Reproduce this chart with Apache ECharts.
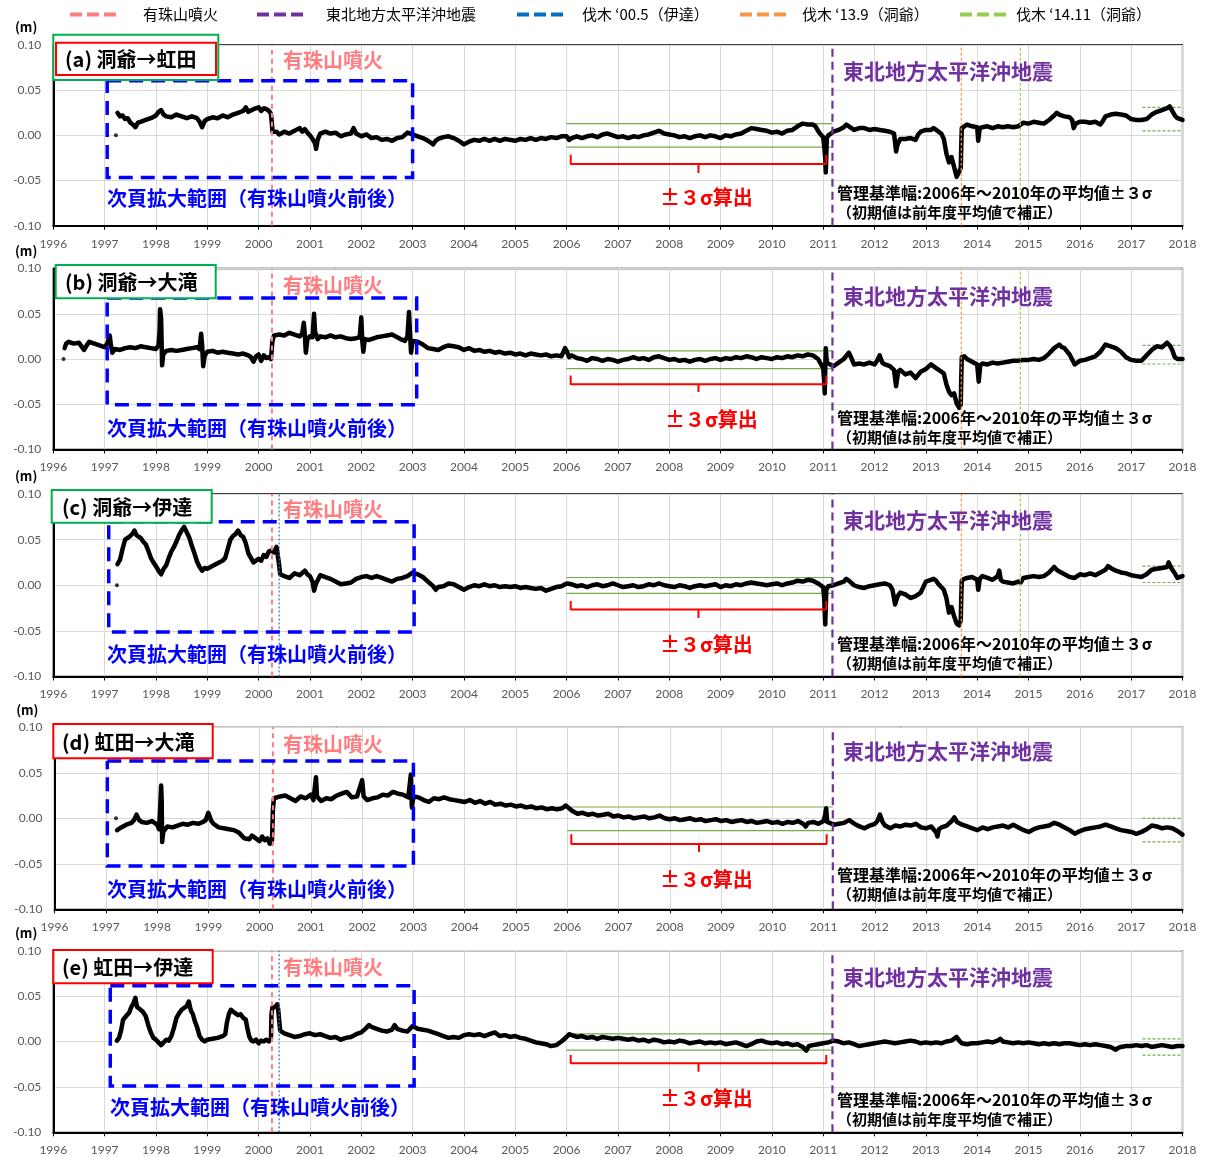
<!DOCTYPE html>
<html><head><meta charset="utf-8">
<script src="https://cdn.jsdelivr.net/npm/echarts@6/dist/echarts.min.js"></script>
<style>html,body{margin:0;padding:0;background:#fff}#c{width:1209px;height:1157px}</style>
</head><body><div id="c"></div>
<script>
// ---------- axes / ticks ----------
const xTickMin = 1996, xTickMax = 2018, xTickStep = 1;
const yTickMin = -0.10, yTickMax = 0.10, yTickStep = 0.05;

// ---------- categories ----------
const panelTitles = ['(a) 洞爺→虹田', '(b) 洞爺→大滝', '(c) 洞爺→伊達', '(d) 虹田→大滝', '(e) 虹田→伊達'];
const eventNames = ['有珠山噴火', '東北地方太平洋沖地震', '伐木 ‘00.5（伊達）', '伐木 ‘13.9（洞爺）', '伐木 ‘14.11（洞爺）'];
const eventYears = [2000.26, 2011.18, 2000.40, 2013.69, 2014.84];
const eventPanels = [[0,1,2,3,4], [0,1,2,3,4], [2,4], [0,1,2], [0,1,2]];

// ---------- ±3σ bands (m) ----------
const refPeriod = [2006.0, 2011.18];
const refUpper = [0.013, 0.009, 0.0085, 0.0124, 0.0083];
const refLower = [-0.013, -0.0107, -0.009, -0.0135, -0.0094];
const curPeriod = [2017.22, 2018.0];
const curUpper = [0.031, 0.015, 0.021, 0.000, 0.003];
const curLower = [0.005, -0.0055, 0.003, -0.026, -0.015];

// ---------- isolated first points ----------
const isoA = [[1997.22, 0.000]];
const isoB = [[1996.20, 0.000]];
const isoC = [[1997.24, 0.000]];
const isoD = [[1997.20, 0.000]];
const isoE = [];

// ---------- series values [year, m] ----------
const seriesA = [
[1997.25,0.025],[1997.3,0.021],[1997.35,0.022],[1997.4,0.018],[1997.45,0.019],[1997.5,0.014],[1997.55,0.012],[1997.6,0.009],[1997.65,0.014],[1997.7,0.015],[1997.8,0.017],[1997.9,0.019],
[1998.0,0.022],[1998.05,0.026],[1998.1,0.028],[1998.15,0.023],[1998.2,0.021],[1998.3,0.020],[1998.4,0.023],[1998.5,0.021],[1998.6,0.019],[1998.7,0.021],[1998.8,0.019],[1998.85,0.015],[1998.9,0.009],[1998.95,0.016],
[1999.0,0.018],[1999.1,0.020],[1999.2,0.019],[1999.3,0.022],[1999.4,0.020],[1999.5,0.023],[1999.6,0.025],[1999.7,0.027],[1999.75,0.031],[1999.8,0.026],[1999.9,0.029],
[2000.0,0.031],[2000.05,0.027],[2000.1,0.030],[2000.15,0.029],[2000.2,0.027],[2000.24,0.024],[2000.26,0.012],[2000.27,0.004],[2000.3,0.002],[2000.35,0.004],[2000.4,0.001],[2000.5,0.004],[2000.6,0.002],[2000.7,0.005],[2000.8,0.008],[2000.85,0.004],[2000.9,0.007],[2000.95,0.003],
[2001.0,0.000],[2001.05,-0.004],[2001.1,-0.009],[2001.12,-0.015],[2001.15,-0.005],[2001.2,0.002],[2001.3,0.004],[2001.4,0.002],[2001.5,0.003],[2001.6,-0.001],[2001.7,0.001],[2001.8,0.002],[2001.85,0.008],[2001.9,0.002],
[2002.0,-0.001],[2002.1,0.001],[2002.2,-0.003],[2002.3,-0.002],[2002.4,-0.005],[2002.5,-0.004],[2002.6,-0.006],[2002.7,-0.003],[2002.8,-0.002],[2002.9,0.003],
[2003.0,0.001],[2003.1,-0.001],[2003.2,-0.003],[2003.3,-0.006],[2003.4,-0.010],[2003.45,-0.006],[2003.5,-0.004],[2003.6,-0.002],[2003.7,-0.001],[2003.8,-0.003],[2003.9,-0.006],
[2004.0,-0.010],[2004.1,-0.007],[2004.2,-0.005],[2004.3,-0.006],[2004.4,-0.004],[2004.5,-0.006],[2004.6,-0.004],[2004.7,-0.006],[2004.8,-0.004],[2004.9,-0.005],
[2005.0,-0.006],[2005.1,-0.004],[2005.2,-0.005],[2005.3,-0.003],[2005.4,-0.005],[2005.5,-0.003],[2005.6,-0.004],[2005.7,-0.002],[2005.8,-0.003],[2005.9,-0.001],
[2006.0,-0.001],[2006.05,-0.005],[2006.1,-0.003],[2006.2,-0.001],[2006.3,-0.003],[2006.4,-0.001],[2006.5,0.000],[2006.6,-0.002],[2006.7,0.001],[2006.8,0.002],[2006.9,0.000],
[2007.0,-0.002],[2007.1,-0.001],[2007.2,-0.003],[2007.3,-0.001],[2007.4,-0.002],[2007.5,0.000],[2007.6,0.001],[2007.7,0.003],[2007.8,0.005],[2007.9,0.002],
[2008.0,0.001],[2008.1,0.000],[2008.2,-0.002],[2008.3,-0.001],[2008.4,-0.003],[2008.5,-0.001],[2008.6,0.000],[2008.7,-0.002],[2008.8,0.000],[2008.9,-0.001],
[2009.0,-0.003],[2009.1,0.000],[2009.2,-0.001],[2009.3,0.001],[2009.4,0.002],[2009.5,0.005],[2009.6,0.008],[2009.7,0.007],[2009.8,0.006],[2009.9,0.005],
[2010.0,0.003],[2010.1,0.004],[2010.2,0.002],[2010.3,0.005],[2010.4,0.006],[2010.5,0.010],[2010.6,0.013],[2010.7,0.012],[2010.8,0.012],[2010.85,0.010],[2010.9,0.005],[2010.95,0.001],
[2011.0,-0.002],[2011.02,-0.012],[2011.04,-0.025],[2011.05,-0.041],[2011.07,-0.003],[2011.1,0.000],[2011.15,0.002],[2011.2,0.004],[2011.3,0.006],[2011.4,0.009],[2011.45,0.012],[2011.5,0.010],[2011.6,0.006],[2011.7,0.008],[2011.8,0.008],[2011.9,0.006],
[2012.0,0.007],[2012.1,0.006],[2012.2,0.005],[2012.3,0.004],[2012.38,0.002],[2012.42,-0.018],[2012.45,-0.010],[2012.5,-0.004],[2012.6,-0.004],[2012.7,-0.003],[2012.8,-0.005],[2012.85,0.001],[2012.9,0.004],
[2013.0,0.006],[2013.1,0.006],[2013.15,0.008],[2013.2,0.006],[2013.3,0.002],[2013.35,-0.004],[2013.4,-0.020],[2013.45,-0.030],[2013.5,-0.024],[2013.55,-0.035],[2013.6,-0.046],[2013.65,-0.040],[2013.68,-0.036],[2013.69,-0.010],[2013.7,0.008],[2013.75,0.010],[2013.8,0.012],[2013.9,0.010],
[2014.0,0.009],[2014.02,-0.006],[2014.05,0.008],[2014.1,0.009],[2014.2,0.010],[2014.3,0.008],[2014.4,0.010],[2014.5,0.009],[2014.6,0.010],[2014.7,0.009],[2014.8,0.010],[2014.9,0.014],
[2015.0,0.013],[2015.1,0.015],[2015.2,0.014],[2015.3,0.013],[2015.4,0.017],[2015.5,0.022],[2015.55,0.025],[2015.6,0.023],[2015.7,0.021],[2015.8,0.020],[2015.85,0.017],[2015.88,0.008],[2015.92,0.013],
[2016.0,0.015],[2016.1,0.015],[2016.2,0.014],[2016.3,0.015],[2016.4,0.012],[2016.45,0.016],[2016.5,0.021],[2016.6,0.023],[2016.7,0.024],[2016.8,0.023],[2016.9,0.022],
[2017.0,0.018],[2017.1,0.017],[2017.2,0.017],[2017.3,0.018],[2017.4,0.023],[2017.5,0.026],[2017.6,0.028],[2017.7,0.030],[2017.75,0.032],[2017.8,0.027],[2017.85,0.022],[2017.9,0.019],[2018.0,0.017]
];

const seriesB = [
[1996.22,0.012],[1996.25,0.017],[1996.3,0.019],[1996.4,0.017],[1996.5,0.018],[1996.55,0.014],[1996.6,0.010],[1996.65,0.015],[1996.7,0.019],[1996.8,0.017],[1996.9,0.015],
[1997.0,0.013],[1997.05,0.017],[1997.1,0.026],[1997.12,0.016],[1997.15,0.007],[1997.2,0.011],[1997.3,0.010],[1997.4,0.012],[1997.5,0.013],[1997.6,0.012],[1997.7,0.014],[1997.8,0.013],[1997.9,0.012],
[1998.0,0.011],[1998.05,0.015],[1998.07,0.030],[1998.08,0.055],[1998.1,0.045],[1998.11,0.020],[1998.12,-0.007],[1998.14,0.005],[1998.2,0.009],[1998.3,0.010],[1998.4,0.009],[1998.5,0.010],[1998.6,0.011],[1998.7,0.012],[1998.8,0.013],[1998.85,0.011],[1998.88,0.028],[1998.9,0.015],[1998.92,-0.008],[1998.95,0.004],
[1999.0,0.008],[1999.1,0.009],[1999.2,0.007],[1999.3,0.008],[1999.4,0.007],[1999.5,0.006],[1999.6,0.005],[1999.7,0.006],[1999.8,0.004],[1999.85,0.002],[1999.9,-0.003],[1999.95,0.003],
[2000.0,0.005],[2000.05,-0.002],[2000.1,0.004],[2000.15,0.001],[2000.2,0.002],[2000.24,0.000],[2000.27,0.020],[2000.3,0.026],[2000.4,0.027],[2000.5,0.026],[2000.6,0.029],[2000.7,0.027],[2000.8,0.025],[2000.85,0.028],[2000.88,0.040],[2000.9,0.027],[2000.92,0.007],[2000.95,0.022],
[2001.0,0.025],[2001.05,0.024],[2001.08,0.050],[2001.1,0.030],[2001.15,0.022],[2001.2,0.025],[2001.3,0.024],[2001.4,0.026],[2001.5,0.024],[2001.6,0.025],[2001.7,0.023],[2001.8,0.022],[2001.9,0.023],[2001.97,0.024],
[2002.0,0.046],[2002.02,0.020],[2002.04,0.008],[2002.07,0.022],[2002.15,0.021],[2002.3,0.024],[2002.4,0.025],[2002.5,0.026],[2002.6,0.027],[2002.7,0.024],[2002.8,0.021],[2002.85,0.020],[2002.9,0.025],[2002.93,0.052],[2002.95,0.028],[2002.97,0.007],
[2003.0,0.020],[2003.1,0.019],[2003.2,0.016],[2003.3,0.012],[2003.4,0.011],[2003.5,0.010],[2003.6,0.013],[2003.7,0.015],[2003.8,0.014],[2003.9,0.013],
[2004.0,0.010],[2004.1,0.012],[2004.2,0.009],[2004.3,0.010],[2004.4,0.008],[2004.5,0.009],[2004.6,0.007],[2004.7,0.008],[2004.8,0.006],[2004.9,0.007],
[2005.0,0.005],[2005.1,0.006],[2005.2,0.004],[2005.3,0.006],[2005.4,0.005],[2005.5,0.004],[2005.6,0.005],[2005.7,0.003],[2005.8,0.004],[2005.9,0.003],[2005.97,0.012],
[2006.0,0.009],[2006.05,0.002],[2006.1,0.004],[2006.2,0.001],[2006.3,0.000],[2006.4,-0.002],[2006.5,0.001],[2006.6,0.000],[2006.7,-0.002],[2006.8,0.000],[2006.9,-0.001],
[2007.0,-0.003],[2007.1,-0.001],[2007.2,0.000],[2007.3,0.002],[2007.4,0.000],[2007.5,0.001],[2007.6,-0.001],[2007.7,0.002],[2007.8,0.003],[2007.9,0.001],
[2008.0,-0.001],[2008.1,0.000],[2008.2,-0.002],[2008.3,-0.001],[2008.4,-0.003],[2008.5,-0.001],[2008.6,0.000],[2008.7,-0.002],[2008.8,0.000],[2008.9,0.001],
[2009.0,-0.001],[2009.1,0.001],[2009.2,0.000],[2009.3,0.002],[2009.4,0.001],[2009.5,0.003],[2009.6,0.002],[2009.7,0.000],[2009.8,0.002],[2009.9,0.001],
[2010.0,0.000],[2010.1,0.002],[2010.2,0.001],[2010.3,0.003],[2010.4,0.002],[2010.5,0.004],[2010.6,0.003],[2010.7,0.005],[2010.8,0.004],[2010.9,0.000],[2010.95,-0.005],
[2011.0,-0.010],[2011.02,-0.025],[2011.03,-0.038],[2011.04,-0.010],[2011.05,0.012],[2011.07,-0.004],[2011.1,-0.006],[2011.2,-0.008],[2011.3,-0.004],[2011.4,0.000],[2011.5,0.007],[2011.55,0.001],[2011.6,-0.006],[2011.7,-0.005],[2011.8,-0.006],[2011.9,-0.004],
[2012.0,-0.006],[2012.05,-0.002],[2012.1,0.004],[2012.15,-0.004],[2012.2,-0.006],[2012.3,-0.008],[2012.38,-0.012],[2012.42,-0.030],[2012.46,-0.014],[2012.5,-0.012],[2012.6,-0.017],[2012.7,-0.015],[2012.8,-0.021],[2012.9,-0.014],
[2013.0,-0.011],[2013.1,-0.006],[2013.2,-0.010],[2013.3,-0.014],[2013.35,-0.016],[2013.4,-0.028],[2013.45,-0.036],[2013.5,-0.040],[2013.55,-0.038],[2013.6,-0.049],[2013.65,-0.054],[2013.68,-0.050],[2013.69,-0.020],[2013.7,0.002],[2013.75,0.003],[2013.8,0.000],[2013.9,-0.003],
[2014.0,-0.006],[2014.03,-0.025],[2014.06,-0.007],[2014.1,-0.005],[2014.2,-0.006],[2014.3,-0.004],[2014.4,-0.005],[2014.5,-0.004],[2014.6,-0.003],[2014.7,-0.002],[2014.8,-0.002],[2014.9,-0.001],
[2015.0,-0.001],[2015.1,0.000],[2015.2,-0.001],[2015.3,0.001],[2015.4,0.006],[2015.5,0.012],[2015.6,0.016],[2015.65,0.013],[2015.7,0.012],[2015.8,0.005],[2015.9,-0.006],
[2016.0,-0.002],[2016.1,-0.001],[2016.2,0.001],[2016.3,0.003],[2016.4,0.008],[2016.5,0.016],[2016.6,0.014],[2016.7,0.012],[2016.8,0.008],[2016.9,0.002],
[2017.0,-0.001],[2017.1,-0.002],[2017.2,-0.002],[2017.3,0.004],[2017.4,0.010],[2017.5,0.014],[2017.6,0.013],[2017.7,0.018],[2017.75,0.015],[2017.8,0.010],[2017.85,0.002],[2017.9,0.000],[2018.0,0.000]
];

const seriesC = [
[1997.25,0.023],[1997.3,0.028],[1997.35,0.040],[1997.4,0.050],[1997.45,0.052],[1997.5,0.054],[1997.55,0.057],[1997.58,0.060],[1997.62,0.055],[1997.7,0.052],[1997.75,0.048],[1997.8,0.045],[1997.85,0.038],[1997.9,0.030],[1997.95,0.025],
[1998.0,0.021],[1998.05,0.016],[1998.1,0.012],[1998.15,0.018],[1998.2,0.022],[1998.25,0.030],[1998.3,0.037],[1998.35,0.042],[1998.4,0.048],[1998.45,0.055],[1998.5,0.060],[1998.55,0.064],[1998.6,0.058],[1998.65,0.052],[1998.7,0.043],[1998.75,0.035],[1998.8,0.026],[1998.85,0.020],[1998.9,0.016],[1998.95,0.019],
[1999.0,0.018],[1999.1,0.021],[1999.2,0.024],[1999.3,0.027],[1999.35,0.030],[1999.4,0.040],[1999.45,0.050],[1999.5,0.054],[1999.55,0.056],[1999.6,0.060],[1999.65,0.055],[1999.7,0.053],[1999.75,0.046],[1999.8,0.035],[1999.85,0.030],[1999.9,0.025],[1999.95,0.027],
[2000.0,0.029],[2000.05,0.027],[2000.1,0.033],[2000.15,0.031],[2000.2,0.037],[2000.25,0.038],[2000.3,0.036],[2000.35,0.042],[2000.38,0.040],[2000.4,0.022],[2000.42,0.012],[2000.5,0.010],[2000.6,0.008],[2000.7,0.013],[2000.8,0.011],[2000.9,0.016],[2000.95,0.012],
[2001.0,0.010],[2001.05,0.004],[2001.08,-0.006],[2001.1,-0.008],[2001.12,0.002],[2001.2,0.011],[2001.3,0.009],[2001.4,0.007],[2001.5,0.004],[2001.6,0.001],[2001.7,0.002],[2001.8,0.003],[2001.9,0.007],
[2002.0,0.009],[2002.1,0.010],[2002.2,0.008],[2002.3,0.010],[2002.4,0.008],[2002.5,0.006],[2002.6,0.004],[2002.7,0.007],[2002.8,0.008],[2002.9,0.010],
[2003.0,0.014],[2003.1,0.012],[2003.2,0.009],[2003.3,0.004],[2003.4,-0.001],[2003.45,-0.005],[2003.5,-0.002],[2003.6,-0.001],[2003.7,0.002],[2003.8,0.001],[2003.9,-0.002],
[2004.0,-0.005],[2004.1,-0.002],[2004.2,0.000],[2004.3,-0.001],[2004.4,0.001],[2004.5,-0.001],[2004.6,0.000],[2004.7,-0.002],[2004.8,-0.001],[2004.9,-0.002],
[2005.0,-0.001],[2005.1,-0.003],[2005.2,-0.002],[2005.3,-0.003],[2005.4,-0.004],[2005.5,-0.003],[2005.6,-0.006],[2005.7,-0.004],[2005.8,-0.002],[2005.9,-0.001],
[2006.0,0.002],[2006.1,0.001],[2006.2,-0.001],[2006.3,0.000],[2006.4,-0.002],[2006.5,0.000],[2006.6,0.001],[2006.7,-0.001],[2006.8,0.000],[2006.9,0.002],
[2007.0,0.000],[2007.1,-0.002],[2007.2,-0.001],[2007.3,0.000],[2007.4,-0.002],[2007.5,-0.001],[2007.6,0.001],[2007.7,0.000],[2007.8,0.002],[2007.9,0.000],
[2008.0,-0.001],[2008.1,-0.002],[2008.2,0.000],[2008.3,-0.001],[2008.4,-0.003],[2008.5,-0.001],[2008.6,0.000],[2008.7,-0.001],[2008.8,0.000],[2008.9,0.001],
[2009.0,-0.002],[2009.1,0.000],[2009.2,-0.001],[2009.3,0.001],[2009.4,0.000],[2009.5,0.002],[2009.6,0.003],[2009.7,0.002],[2009.8,0.001],[2009.9,0.000],
[2010.0,0.001],[2010.1,0.002],[2010.2,0.000],[2010.3,0.002],[2010.4,0.003],[2010.5,0.005],[2010.6,0.004],[2010.7,0.006],[2010.8,0.005],[2010.9,0.002],[2010.95,0.000],
[2011.0,-0.002],[2011.02,-0.015],[2011.03,-0.030],[2011.04,-0.043],[2011.06,-0.005],[2011.1,-0.001],[2011.2,0.000],[2011.3,0.002],[2011.4,0.004],[2011.45,0.007],[2011.5,0.005],[2011.6,0.000],[2011.7,-0.002],[2011.8,-0.003],[2011.9,-0.001],
[2012.0,0.000],[2012.1,0.001],[2012.2,0.002],[2012.3,0.000],[2012.35,-0.005],[2012.4,-0.021],[2012.45,-0.012],[2012.5,-0.008],[2012.6,-0.010],[2012.7,-0.014],[2012.8,-0.012],[2012.9,-0.008],
[2013.0,0.004],[2013.1,0.006],[2013.15,0.007],[2013.2,0.005],[2013.25,0.001],[2013.3,-0.002],[2013.35,-0.005],[2013.4,-0.014],[2013.45,-0.030],[2013.5,-0.024],[2013.55,-0.034],[2013.6,-0.042],[2013.65,-0.044],[2013.68,-0.038],[2013.69,-0.012],[2013.7,0.005],[2013.75,0.007],[2013.8,0.008],[2013.9,0.009],
[2014.0,0.006],[2014.02,-0.005],[2014.05,0.007],[2014.1,0.010],[2014.2,0.008],[2014.3,0.006],[2014.4,0.010],[2014.43,0.016],[2014.46,0.006],[2014.5,0.004],[2014.6,0.003],[2014.7,0.002],[2014.8,0.004],[2014.85,0.003],[2014.9,0.008],
[2015.0,0.009],[2015.1,0.010],[2015.2,0.009],[2015.3,0.010],[2015.4,0.014],[2015.5,0.020],[2015.55,0.017],[2015.6,0.015],[2015.7,0.012],[2015.8,0.009],[2015.9,0.008],
[2016.0,0.012],[2016.1,0.011],[2016.2,0.013],[2016.3,0.011],[2016.4,0.014],[2016.5,0.017],[2016.55,0.021],[2016.6,0.019],[2016.7,0.016],[2016.8,0.014],[2016.9,0.013],
[2017.0,0.011],[2017.1,0.010],[2017.2,0.009],[2017.3,0.012],[2017.4,0.017],[2017.5,0.018],[2017.6,0.019],[2017.7,0.020],[2017.73,0.025],[2017.78,0.019],[2017.85,0.013],[2017.9,0.008],[2018.0,0.010]
];

const seriesD = [
[1997.22,-0.013],[1997.3,-0.010],[1997.4,-0.007],[1997.5,-0.005],[1997.55,-0.002],[1997.6,0.004],[1997.65,-0.002],[1997.7,-0.004],[1997.8,-0.005],[1997.9,-0.003],
[1998.0,-0.007],[1998.04,-0.012],[1998.06,0.010],[1998.08,0.036],[1998.09,0.020],[1998.1,-0.026],[1998.12,-0.015],[1998.2,-0.009],[1998.3,-0.010],[1998.4,-0.008],[1998.5,-0.006],[1998.6,-0.007],[1998.7,-0.005],[1998.8,-0.006],[1998.9,-0.004],[1998.95,-0.002],
[1999.0,0.006],[1999.05,-0.002],[1999.1,-0.006],[1999.2,-0.010],[1999.3,-0.011],[1999.4,-0.012],[1999.5,-0.013],[1999.6,-0.016],[1999.7,-0.022],[1999.8,-0.023],[1999.85,-0.019],[1999.9,-0.021],
[2000.0,-0.025],[2000.05,-0.020],[2000.1,-0.024],[2000.15,-0.022],[2000.2,-0.028],[2000.24,-0.026],[2000.25,-0.010],[2000.26,0.010],[2000.28,0.022],[2000.3,0.021],[2000.4,0.024],[2000.5,0.025],[2000.6,0.022],[2000.7,0.019],[2000.8,0.024],[2000.9,0.022],
[2001.0,0.026],[2001.05,0.020],[2001.1,0.045],[2001.12,0.024],[2001.2,0.019],[2001.3,0.022],[2001.4,0.021],[2001.5,0.025],[2001.6,0.027],[2001.7,0.029],[2001.8,0.023],[2001.9,0.024],
[2002.0,0.042],[2002.03,0.024],[2002.1,0.020],[2002.2,0.022],[2002.3,0.023],[2002.4,0.026],[2002.5,0.025],[2002.6,0.029],[2002.7,0.027],[2002.8,0.026],[2002.9,0.023],[2002.95,0.048],[2002.97,0.012],
[2003.0,0.024],[2003.1,0.023],[2003.2,0.020],[2003.3,0.018],[2003.4,0.022],[2003.5,0.021],[2003.6,0.023],[2003.7,0.021],[2003.8,0.020],[2003.9,0.019],
[2004.0,0.018],[2004.1,0.020],[2004.2,0.017],[2004.3,0.019],[2004.4,0.016],[2004.5,0.018],[2004.6,0.015],[2004.7,0.016],[2004.8,0.014],[2004.9,0.015],
[2005.0,0.013],[2005.1,0.014],[2005.2,0.012],[2005.3,0.013],[2005.4,0.011],[2005.5,0.012],[2005.6,0.010],[2005.7,0.011],[2005.8,0.010],[2005.9,0.011],[2005.97,0.014],
[2006.0,0.012],[2006.1,0.008],[2006.2,0.005],[2006.3,0.006],[2006.4,0.004],[2006.5,0.005],[2006.6,0.003],[2006.7,0.004],[2006.8,0.005],[2006.9,0.002],
[2007.0,0.003],[2007.1,0.001],[2007.2,0.002],[2007.3,0.000],[2007.4,0.001],[2007.5,0.002],[2007.6,0.000],[2007.7,0.001],[2007.8,0.003],[2007.9,0.000],
[2008.0,-0.001],[2008.1,0.000],[2008.2,-0.002],[2008.3,-0.001],[2008.4,0.000],[2008.5,-0.002],[2008.6,-0.001],[2008.7,-0.003],[2008.8,-0.002],[2008.9,-0.001],
[2009.0,-0.003],[2009.1,-0.002],[2009.2,-0.004],[2009.3,-0.003],[2009.4,-0.002],[2009.5,-0.004],[2009.6,-0.003],[2009.7,-0.005],[2009.8,-0.004],[2009.9,-0.003],
[2010.0,-0.005],[2010.1,-0.004],[2010.2,-0.006],[2010.3,-0.004],[2010.4,-0.005],[2010.5,-0.003],[2010.6,-0.006],[2010.65,-0.009],[2010.7,-0.005],[2010.8,-0.004],[2010.9,-0.006],
[2011.0,-0.003],[2011.03,0.004],[2011.05,0.011],[2011.07,-0.004],[2011.1,-0.005],[2011.2,-0.007],[2011.3,-0.006],[2011.4,-0.005],[2011.5,-0.002],[2011.55,-0.004],[2011.6,-0.006],[2011.7,-0.009],[2011.8,-0.011],[2011.9,-0.008],
[2012.0,-0.006],[2012.05,-0.003],[2012.1,0.004],[2012.15,-0.004],[2012.2,-0.008],[2012.3,-0.011],[2012.4,-0.008],[2012.5,-0.009],[2012.6,-0.007],[2012.7,-0.008],[2012.8,-0.006],[2012.9,-0.010],
[2013.0,-0.011],[2013.1,-0.009],[2013.2,-0.016],[2013.22,-0.020],[2013.25,-0.012],[2013.3,-0.010],[2013.4,-0.008],[2013.5,-0.003],[2013.55,0.001],[2013.6,-0.004],[2013.7,-0.007],[2013.8,-0.009],[2013.9,-0.011],
[2014.0,-0.013],[2014.1,-0.010],[2014.2,-0.012],[2014.3,-0.010],[2014.4,-0.009],[2014.5,-0.008],[2014.6,-0.010],[2014.7,-0.007],[2014.8,-0.010],[2014.9,-0.013],
[2015.0,-0.015],[2015.1,-0.012],[2015.2,-0.010],[2015.3,-0.009],[2015.4,-0.008],[2015.5,-0.005],[2015.6,-0.007],[2015.7,-0.010],[2015.8,-0.013],[2015.9,-0.017],
[2016.0,-0.014],[2016.1,-0.012],[2016.2,-0.011],[2016.3,-0.010],[2016.4,-0.009],[2016.5,-0.007],[2016.6,-0.009],[2016.7,-0.011],[2016.8,-0.013],[2016.9,-0.014],
[2017.0,-0.015],[2017.1,-0.017],[2017.2,-0.015],[2017.3,-0.012],[2017.4,-0.008],[2017.5,-0.009],[2017.6,-0.011],[2017.7,-0.010],[2017.8,-0.011],[2017.9,-0.014],[2018.0,-0.018]
];

const seriesE = [
[1997.24,0.001],[1997.28,0.004],[1997.32,0.012],[1997.36,0.024],[1997.42,0.028],[1997.48,0.032],[1997.52,0.038],[1997.56,0.042],[1997.6,0.048],[1997.63,0.038],[1997.68,0.036],[1997.74,0.033],[1997.8,0.028],[1997.85,0.018],[1997.9,0.010],[1997.95,0.004],
[1998.0,0.002],[1998.05,-0.001],[1998.1,-0.004],[1998.15,-0.001],[1998.2,0.002],[1998.25,0.001],[1998.3,0.006],[1998.35,0.015],[1998.4,0.026],[1998.45,0.031],[1998.5,0.035],[1998.55,0.037],[1998.6,0.039],[1998.64,0.044],[1998.68,0.034],[1998.72,0.030],[1998.76,0.022],[1998.8,0.016],[1998.85,0.006],[1998.9,0.002],[1998.95,0.000],
[1999.0,0.002],[1999.1,0.003],[1999.2,0.004],[1999.3,0.006],[1999.35,0.008],[1999.38,0.020],[1999.42,0.030],[1999.46,0.035],[1999.5,0.033],[1999.55,0.031],[1999.6,0.029],[1999.65,0.030],[1999.7,0.026],[1999.75,0.024],[1999.78,0.015],[1999.82,0.005],[1999.86,0.001],[1999.9,0.000],[1999.95,0.002],
[2000.0,-0.002],[2000.05,0.001],[2000.1,0.000],[2000.15,0.002],[2000.2,0.000],[2000.24,0.003],[2000.25,0.030],[2000.27,0.038],[2000.3,0.040],[2000.33,0.038],[2000.36,0.041],[2000.38,0.036],[2000.4,0.024],[2000.42,0.012],[2000.45,0.010],[2000.5,0.009],[2000.6,0.007],[2000.7,0.005],[2000.8,0.006],[2000.9,0.008],
[2001.0,0.009],[2001.1,0.007],[2001.2,0.008],[2001.3,0.006],[2001.4,0.004],[2001.5,0.005],[2001.6,0.002],[2001.7,0.004],[2001.8,0.005],[2001.9,0.008],
[2002.0,0.010],[2002.1,0.015],[2002.15,0.018],[2002.2,0.016],[2002.3,0.014],[2002.4,0.012],[2002.5,0.011],[2002.6,0.013],[2002.65,0.018],[2002.7,0.014],[2002.8,0.012],[2002.9,0.011],
[2003.0,0.017],[2003.1,0.014],[2003.2,0.013],[2003.3,0.012],[2003.4,0.010],[2003.5,0.008],[2003.6,0.006],[2003.7,0.004],[2003.8,0.005],[2003.9,0.004],
[2004.0,0.007],[2004.1,0.008],[2004.2,0.007],[2004.3,0.008],[2004.4,0.006],[2004.5,0.008],[2004.6,0.010],[2004.7,0.006],[2004.8,0.007],[2004.9,0.005],
[2005.0,0.006],[2005.1,0.004],[2005.2,0.003],[2005.3,0.001],[2005.4,-0.001],[2005.5,-0.002],[2005.6,-0.003],[2005.7,-0.005],[2005.8,-0.004],[2005.9,0.000],
[2006.0,0.005],[2006.05,0.008],[2006.1,0.007],[2006.2,0.005],[2006.3,0.006],[2006.4,0.004],[2006.5,0.005],[2006.6,0.003],[2006.7,0.005],[2006.8,0.004],[2006.9,0.003],
[2007.0,0.004],[2007.1,0.003],[2007.2,0.002],[2007.3,0.003],[2007.4,0.001],[2007.5,0.002],[2007.6,0.000],[2007.7,0.002],[2007.8,0.001],[2007.9,-0.001],
[2008.0,0.000],[2008.1,-0.001],[2008.2,0.001],[2008.3,0.000],[2008.4,-0.002],[2008.5,-0.001],[2008.6,0.000],[2008.7,-0.002],[2008.8,-0.001],[2008.9,-0.002],
[2009.0,-0.001],[2009.1,-0.003],[2009.2,-0.002],[2009.3,-0.001],[2009.4,-0.003],[2009.5,-0.005],[2009.6,-0.003],[2009.7,0.000],[2009.8,0.001],[2009.9,-0.001],
[2010.0,-0.002],[2010.1,-0.001],[2010.2,-0.003],[2010.3,-0.002],[2010.4,-0.004],[2010.5,-0.003],[2010.6,-0.006],[2010.67,-0.010],[2010.72,-0.005],[2010.8,-0.004],[2010.9,-0.003],
[2011.0,-0.002],[2011.1,-0.001],[2011.2,0.001],[2011.3,0.000],[2011.4,-0.002],[2011.5,-0.001],[2011.6,-0.003],[2011.7,-0.005],[2011.8,-0.004],[2011.9,-0.003],
[2012.0,-0.002],[2012.1,-0.001],[2012.2,0.000],[2012.3,-0.001],[2012.4,-0.002],[2012.5,-0.001],[2012.6,0.000],[2012.7,0.001],[2012.8,0.000],[2012.9,-0.002],
[2013.0,-0.001],[2013.1,-0.002],[2013.2,-0.001],[2013.3,-0.002],[2013.4,0.000],[2013.5,0.001],[2013.6,0.005],[2013.65,0.001],[2013.7,-0.002],[2013.8,-0.003],[2013.9,-0.002],
[2014.0,-0.002],[2014.1,-0.001],[2014.2,0.000],[2014.3,-0.001],[2014.4,0.001],[2014.45,0.003],[2014.5,0.000],[2014.6,-0.001],[2014.7,-0.002],[2014.8,-0.001],[2014.9,-0.002],
[2015.0,-0.001],[2015.1,-0.002],[2015.2,-0.003],[2015.3,-0.002],[2015.4,-0.003],[2015.5,-0.002],[2015.6,-0.003],[2015.7,-0.002],[2015.8,-0.002],[2015.9,-0.003],
[2016.0,-0.004],[2016.1,-0.003],[2016.2,-0.004],[2016.3,-0.003],[2016.4,-0.004],[2016.5,-0.005],[2016.6,-0.006],[2016.7,-0.009],[2016.75,-0.007],[2016.8,-0.006],[2016.9,-0.005],
[2017.0,-0.005],[2017.1,-0.004],[2017.2,-0.005],[2017.3,-0.004],[2017.4,-0.006],[2017.5,-0.005],[2017.6,-0.004],[2017.7,-0.005],[2017.8,-0.006],[2017.9,-0.005],[2018.0,-0.005]
];

const panelSeries = [seriesA, seriesB, seriesC, seriesD, seriesE];
const panelIso = [isoA, isoB, isoC, isoD, isoE];

// ---------- layout (pixels) ----------
const gridTops = [45, 268.5, 494, 727.3, 950.7];
const gridHeights = [180.7, 181, 182.5, 182, 181.6];
const gridLefts = [53.3, 53.3, 53.3, 54.5, 53.3];
const gridRight = 26.5;

// annotation shapes in data coordinates [x1, x2, yTop, yBottom]
const zoomBoxes = [
  [1997.05, 2003.00, 0.0605, -0.0466],
  [1997.05, 2003.08, 0.0674, -0.0505],
  [1997.08, 2003.03, 0.0696, -0.0513],
  [1997.03, 2003.00, 0.0630, -0.0524],
  [1997.11, 2003.03, 0.0613, -0.0490]
];
// bracket [yTop, yMid, yTip]
const brackets = [
  [-0.0215, -0.0316, -0.0416],
  [-0.0183, -0.0278, -0.0365],
  [-0.0172, -0.0267, -0.0360],
  [-0.0175, -0.0282, -0.0370],
  [-0.0150, -0.0240, -0.0333]
];
const bracketX = [2006.08, 2008.57, 2011.06];

const FONT = '"Noto Sans CJK JP", "Noto Sans CJK SC", sans-serif';
const eventStyles = [
  {color: '#FF7C80', width: 2, type: [5, 4]},
  {color: '#7030A0', width: 2.2, type: [8, 5]},
  {color: '#2E75B6', width: 1.2, type: [2, 2]},
  {color: '#F79646', width: 1.2, type: [3, 2]},
  {color: '#92D050', width: 1.2, type: [3, 2]}
];
const legendColors = ['#FF7C80', '#7030A0', '#0070C0', '#F79646', '#92D050'];
const legendLefts = [68, 255, 515, 738, 958];
const legendTextPad = [22, 18, 14, 11, 5];

const grids = [], xAxes = [], yAxes = [], series = [], graphics = [];

function yFmt(v) { if (Math.abs(v) < 1e-9) return '0.00'; return v.toFixed(2); }

for (let i = 0; i < 5; i++) {
  grids.push({left: gridLefts[i], right: gridRight, top: gridTops[i], height: gridHeights[i],
    show: true, borderColor: '#000', borderWidth: 1.3, backgroundColor: 'transparent'});
  xAxes.push({type: 'value', gridIndex: i, min: xTickMin, max: xTickMax, interval: xTickStep,
    axisLine: {show: true, onZero: false, lineStyle: {color: '#000', width: 2}},
    axisTick: {show: true, length: 4, lineStyle: {color: '#000', width: 1}},
    axisLabel: {color: '#595959', fontSize: 12, margin: 12, fontFamily: 'Lato, "Open Sans", sans-serif', formatter: v => String(Math.round(v))},
    splitLine: {show: true, lineStyle: {color: '#D9D9D9', width: 1}}});
  yAxes.push({type: 'value', gridIndex: i, min: yTickMin, max: yTickMax, interval: yTickStep,
    name: '(m)', nameLocation: 'end', nameGap: 11,
    nameTextStyle: {color: '#000', fontSize: 13, fontFamily: FONT, fontWeight: 'bold', align: 'right', verticalAlign: 'bottom', padding: [0, 16, 0, 0]},
    axisLine: {show: true, onZero: false, lineStyle: {color: '#000', width: 2}},
    axisTick: {show: false},
    axisLabel: {color: '#595959', fontSize: 12, margin: 12, fontFamily: 'Lato, "Open Sans", sans-serif', formatter: yFmt},
    splitLine: {show: true, lineStyle: {color: '#D9D9D9', width: 1}}});

  const base = {xAxisIndex: i, yAxisIndex: i, silent: true, animation: false};
  // ±3σ reference band
  series.push(Object.assign({type: 'line', symbol: 'none', z: 4, data: [[refPeriod[0], refUpper[i]], [refPeriod[1], refUpper[i]]], lineStyle: {color: '#70AD47', width: 1.2}}, base));
  series.push(Object.assign({type: 'line', symbol: 'none', z: 4, data: [[refPeriod[0], refLower[i]], [refPeriod[1], refLower[i]]], lineStyle: {color: '#70AD47', width: 1.2}}, base));
  series.push(Object.assign({type: 'line', symbol: 'none', z: 4, data: [[curPeriod[0], curUpper[i]], [curPeriod[1], curUpper[i]]], lineStyle: {color: '#70AD47', width: 1.2, type: [3, 2]}}, base));
  series.push(Object.assign({type: 'line', symbol: 'none', z: 4, data: [[curPeriod[0], curLower[i]], [curPeriod[1], curLower[i]]], lineStyle: {color: '#70AD47', width: 1.2, type: [3, 2]}}, base));
  // main trace
  series.push(Object.assign({type: 'line', symbol: 'none', z: 5, data: panelSeries[i], lineStyle: {color: '#000', width: 4.5, join: 'round', cap: 'round'}}, base));
  if (panelIso[i].length) series.push(Object.assign({type: 'scatter', z: 5, data: panelIso[i], symbolSize: 4, itemStyle: {color: '#000'}}, base));
  // zoom range box
  const zb = zoomBoxes[i];
  series.push(Object.assign({type: 'line', symbol: 'none', z: 7,
    data: [[zb[0], zb[2]], [zb[1], zb[2]], [zb[1], zb[3]], [zb[0], zb[3]], [zb[0], zb[2]]],
    lineStyle: {color: '#0000FF', width: 3.5, type: [14, 8], join: 'miter'}}, base));
  // bracket
  const br = brackets[i];
  series.push(Object.assign({type: 'line', symbol: 'none', z: 7,
    data: [[bracketX[0], br[0]], [bracketX[0], br[1]], [bracketX[1], br[1]], [bracketX[1], br[2]], [bracketX[1], br[1]], [bracketX[2], br[1]], [bracketX[2], br[0]]],
    lineStyle: {color: '#FF0000', width: 2}}, base));
}

// event lines (legend)
eventNames.forEach((nm, k) => {
  eventPanels[k].forEach(i => {
    series.push({name: nm, type: 'line', xAxisIndex: i, yAxisIndex: i, symbol: 'none', showSymbol: false, silent: true, animation: false, z: 6,
      data: [[eventYears[k], yTickMin], [eventYears[k], yTickMax]],
      itemStyle: {color: legendColors[k]}, lineStyle: eventStyles[k]});
  });
});

const legends = eventNames.map((nm, k) => ({
  data: [nm], left: legendLefts[k], top: 7, padding: 0, itemWidth: 46, itemHeight: 14, selectedMode: false,
  textStyle: {fontSize: 15, color: '#000', fontFamily: FONT, padding: [0, 0, 0, legendTextPad[k]]},
  itemStyle: {color: legendColors[k], opacity: 0},
  lineStyle: {width: 4, type: [12, 5], color: legendColors[k], opacity: 1}
}));

// ---------- text annotations ----------
const titleBoxes = [
  [{x: 53.3, y: 34.7, w: 165, h: 45.3, c: '#00B050'}, {x: 56, y: 42.7, w: 160, h: 32.3, c: '#FF0000'}],
  [{x: 55.7, y: 265, w: 160, h: 33.3, c: '#00B050'}],
  [{x: 51.7, y: 490, w: 160, h: 32.7, c: '#00B050'}],
  [{x: 53.3, y: 724, w: 159.4, h: 34.3, c: '#FF0000'}],
  [{x: 53.3, y: 950, w: 159.4, h: 33.3, c: '#FF0000'}]
];
const titleX = [65, 65, 62, 62, 62];
const titleY = [59, 282, 507, 742, 967];
const eruptY = [60, 285, 509, 744, 967];
const quakeY = [71, 296, 520, 751, 977];
const zoomTxtX = [107, 107, 107, 107, 110];
const zoomTxtY = [198, 428, 654, 889, 1107];
const sigmaX = [660, 665, 660, 660, 660];
const sigmaY = [197, 419, 644, 879, 1098];
const noteY = [193, 418, 644, 875, 1100];

function txt(x, y, s, color, size, weight) {
  return {type: 'text', x: x, y: y, z: 100,
    style: {text: s, fill: color, fontSize: size, fontWeight: weight || 'bold', fontFamily: FONT, textAlign: 'left', textVerticalAlign: 'middle', verticalAlign: 'middle', align: 'left'}};
}
for (let i = 0; i < 5; i++) {
  titleBoxes[i].forEach(b => graphics.push({type: 'rect', z: 99, shape: {x: b.x, y: b.y, width: b.w, height: b.h},
    style: {fill: '#fff', stroke: b.c, lineWidth: 2}}));
  graphics.push(txt(titleX[i], titleY[i], panelTitles[i], '#000', 20));
  graphics.push(txt(283, eruptY[i], '有珠山噴火', '#FF7C80', 20));
  graphics.push(txt(843, quakeY[i], '東北地方太平洋沖地震', '#7030A0', 21));
  graphics.push(txt(zoomTxtX[i], zoomTxtY[i], '次頁拡大範囲（有珠山噴火前後）', '#0000FF', 20));
  graphics.push(txt(sigmaX[i], sigmaY[i], '±３σ算出', '#FF0000', 20));
  graphics.push(txt(837, noteY[i], '管理基準幅:2006年～2010年の平均値±３σ', '#000', 16));
  graphics.push(txt(837, noteY[i] + 19, '（初期値は前年度平均値で補正）', '#000', 15));
}

const chart = echarts.init(document.getElementById('c'), null, {renderer: 'canvas'});
chart.setOption({
  animation: false,
  backgroundColor: '#fff',
  legend: legends,
  grid: grids,
  xAxis: xAxes,
  yAxis: yAxes,
  series: series,
  graphic: {elements: graphics}
});
</script>
</body></html>
